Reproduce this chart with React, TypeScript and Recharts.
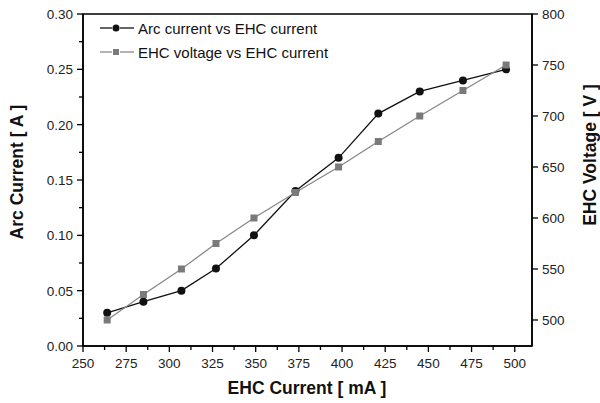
import React from 'react';
import { LineChart, Line, XAxis, YAxis, Legend, ReferenceArea, Label } from 'recharts';

const ehcCurrent = [264, 285, 307, 327, 349, 373, 398, 421, 445, 470, 495];
const arcCurrent = [0.03, 0.04, 0.05, 0.07, 0.1, 0.14, 0.17, 0.21, 0.23, 0.24, 0.25];
const ehcVoltage = [500, 525, 550, 575, 600, 625, 650, 675, 700, 725, 750];

const xTicks = [250, 262.5, 275, 287.5, 300, 312.5, 325, 337.5, 350, 362.5, 375, 387.5, 400, 412.5, 425, 437.5, 450, 462.5, 475, 487.5, 500];
const leftTicks = [0, 0.025, 0.05, 0.075, 0.1, 0.125, 0.15, 0.175, 0.2, 0.225, 0.25, 0.275, 0.3];
const rightTicks = [500, 550, 600, 650, 700, 750, 800];

const FONT = '"Liberation Sans", Arial, sans-serif';

const data = ehcCurrent.map((c, i) => ({ current: c, arc: arcCurrent[i], voltage: ehcVoltage[i] }));

const isMajor = (v: number, step: number) => Math.abs(v / step - Math.round(v / step)) < 1e-6;

const XTick = (props: any) => {
  const { x, y, payload } = props;
  const major = isMajor(payload.value, 25);
  return (
    <g>
      <line x1={x} x2={x} y1={y} y2={y + (major ? 6 : 4)} stroke="#000" strokeWidth={1.3} />
      {major && (
        <text x={x} y={y + 22} textAnchor="middle" fontSize={13.5} fontFamily={FONT} fill="#222">
          {payload.value}
        </text>
      )}
    </g>
  );
};

const LeftTick = (props: any) => {
  const { x, y, payload } = props;
  const major = isMajor(payload.value, 0.05);
  return (
    <g>
      <line x1={x} x2={x - (major ? 6 : 4)} y1={y} y2={y} stroke="#000" strokeWidth={1.3} />
      {major && (
        <text x={x - 10} y={y + 5} textAnchor="end" fontSize={13.5} fontFamily={FONT} fill="#222">
          {payload.value.toFixed(2)}
        </text>
      )}
    </g>
  );
};

const RightTick = (props: any) => {
  const { x, y, payload } = props;
  return (
    <g>
      <line x1={x} x2={x + 6} y1={y} y2={y} stroke="#000" strokeWidth={1.3} />
      <text x={x + 10} y={y + 5} textAnchor="start" fontSize={13.5} fontFamily={FONT} fill="#222">
        {payload.value}
      </text>
    </g>
  );
};

const CircleDot = (props: any) => {
  const { cx, cy } = props;
  return <circle cx={cx} cy={cy} r={4} fill="#111" />;
};

const SquareDot = (props: any) => {
  const { cx, cy } = props;
  return <rect x={cx - 3.5} y={cy - 3.5} width={7} height={7} fill="#7a7a7a" />;
};

const LegendBox = () => (
  <div style={{ fontFamily: FONT, fontSize: 15, color: '#111' }}>
    <div style={{ display: 'flex', alignItems: 'center', height: 24 }}>
      <svg width={36} height={12}>
        <line x1={1} x2={13} y1={6} y2={6} stroke="#111" strokeWidth={1.3} />
        <line x1={21} x2={35} y1={6} y2={6} stroke="#111" strokeWidth={1.3} />
        <circle cx={17} cy={6} r={3.5} fill="#111" />
      </svg>
      <span style={{ marginLeft: 3 }}>Arc current vs EHC current</span>
    </div>
    <div style={{ display: 'flex', alignItems: 'center', height: 24 }}>
      <svg width={36} height={12}>
        <line x1={1} x2={13} y1={6} y2={6} stroke="#888" strokeWidth={1.3} />
        <line x1={21} x2={35} y1={6} y2={6} stroke="#888" strokeWidth={1.3} />
        <rect x={14} y={3} width={6} height={6} fill="#7a7a7a" />
      </svg>
      <span style={{ marginLeft: 3 }}>EHC voltage vs EHC current</span>
    </div>
  </div>
);

export default function App() {
  return (
    <div style={{ position: 'absolute', left: 0, top: 0, background: '#fff' }}>
      <LineChart width={600} height={403} data={data} margin={{ top: 14, right: 0, left: 0, bottom: 0 }}>
        <XAxis
          dataKey="current"
          type="number"
          domain={[250, 510]}
          ticks={xTicks}
          interval={0}
          height={57}
          tickSize={0}
          tickMargin={0}
          tickLine={false}
          tick={<XTick />}
          axisLine={{ stroke: '#000', strokeWidth: 1.5 }}
        >
          <Label
            content={() => (
              <text x={307} y={394} textAnchor="middle" fontSize={17.5} fontWeight="bold" fontFamily={FONT} fill="#111">
                EHC Current [ mA ]
              </text>
            )}
          />
        </XAxis>
        <YAxis
          yAxisId="left"
          type="number"
          domain={[0, 0.3]}
          ticks={leftTicks}
          interval={0}
          width={83}
          tickSize={0}
          tickMargin={0}
          tickLine={false}
          tick={<LeftTick />}
          axisLine={{ stroke: '#000', strokeWidth: 1.5 }}
        >
          <Label
            content={() => (
              <text x={23} y={172} transform="rotate(-90 23 172)" textAnchor="middle" fontSize={17.5} fontWeight="bold" fontFamily={FONT} fill="#111">
                Arc Current [ A ]
              </text>
            )}
          />
        </YAxis>
        <YAxis
          yAxisId="right"
          orientation="right"
          type="number"
          domain={[474.5, 800]}
          ticks={rightTicks}
          interval={0}
          width={68}
          tickSize={0}
          tickMargin={0}
          tickLine={false}
          tick={<RightTick />}
          axisLine={{ stroke: '#000', strokeWidth: 1.5 }}
        >
          <Label
            content={() => (
              <text x={596} y={155} transform="rotate(-90 596 155)" textAnchor="middle" fontSize={17.5} fontWeight="bold" fontFamily={FONT} fill="#111">
                EHC Voltage [ V ]
              </text>
            )}
          />
        </YAxis>
        <ReferenceArea yAxisId="left" x1={250} x2={510} y1={0} y2={0.3} fill="none" stroke="#000" strokeWidth={1.5} ifOverflow="visible" />
        <Legend
          layout="horizontal"
          verticalAlign="middle"
          align="center"
          content={<LegendBox />}
          wrapperStyle={{ top: 16, left: 99, width: 280, height: 50 }}
        />
        <Line
          yAxisId="left"
          dataKey="arc"
          stroke="#111"
          strokeWidth={1.3}
          dot={<CircleDot />}
          activeDot={false}
          isAnimationActive={false}
        />
        <Line
          yAxisId="right"
          dataKey="voltage"
          stroke="#888"
          strokeWidth={1.3}
          dot={<SquareDot />}
          activeDot={false}
          isAnimationActive={false}
        />
      </LineChart>
    </div>
  );
}
